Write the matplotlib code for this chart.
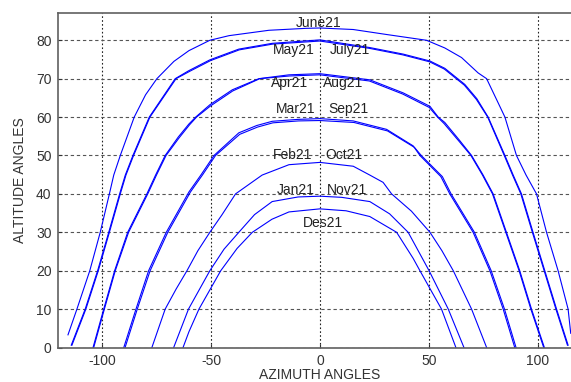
import matplotlib
matplotlib.use('Agg')
import matplotlib.pyplot as plt

plt.rcParams['font.family'] = ['Liberation Sans', 'DejaVu Sans']
plt.rcParams['axes.unicode_minus'] = False

# sun path readings: (azimuth, altitude)
june_az = [-115.6, -111.5, -105.6, -100.8, -96.6, -94.6, -91.6, -85.2, -80.0, -74.8, -67.0, -60.1, -50.5, -41.7, -23.4, -6.6, 0, 15.3, 30.6, 48.9, 57.3, 65.0, 72.6, 76.5, 81.8, 84.9, 90.2, 94.6, 99.4, 104.0, 109.3, 113.9, 115.1]
june_alt = [3.3, 10, 20, 30, 40, 44.9, 50, 60, 65.8, 70, 74.5, 77.3, 80, 81.2, 82.6, 83.1, 83.2, 82.8, 81.5, 80, 78.0, 75.5, 71.5, 70, 63.7, 60, 50, 44.9, 40, 30, 20, 10, 3.7]

may_az = [-114.1, -107.7, -102.0, -96.9, -91.9, -89.3, -85.8, -78.3, -66.4, -60.1, -50.5, -37.2, -21.9, 0, 22.9, 38.2, 50.5, 57.3, 66.5, 72.0, 77.2, 84.9, 88.7, 92.5, 97.8, 103.2, 108.6, 113.9]
may_alt = [0.6, 10, 20, 30, 40, 44.9, 50, 60, 70, 72.1, 74.9, 77.7, 79.2, 80.1, 78.1, 76.4, 74.6, 72.7, 68.5, 64.8, 60, 50, 44.9, 40, 30, 20, 10, 0.6]
july_az = [-113.8, -107.4, -101.7, -96.6, -91.6, -89.0, -85.5, -78.0, -66.0, -59.8, -50.2, -37.0, -21.7, 0, 22.7, 38.0, 50.3, 57.1, 66.3, 71.8, 77.0, 84.6, 88.4, 92.2, 97.5, 102.9, 108.3, 113.6]
july_alt = [0.6, 10, 20, 30, 40, 44.9, 50, 60, 70, 71.9, 74.7, 77.5, 79.0, 79.8, 77.9, 76.2, 74.4, 72.5, 68.3, 64.6, 60, 50, 44.9, 40, 30, 20, 10, 0.6]

apr_az = [-104.1, -99.2, -94.2, -88.2, -79.4, -75.4, -71.0, -65.0, -60.1, -57.0, -50.5, -40.2, -28.0, -14.2, 0, 22.9, 38.2, 50.5, 54.3, 57.3, 64.0, 69.6, 74.9, 79.5, 85.6, 91.7, 97.1, 103.0]
apr_alt = [0, 10, 20, 30, 40, 44.9, 50, 54.8, 58.2, 60, 63.2, 67.1, 70, 71.0, 71.3, 69.7, 66.3, 62.8, 60, 58.6, 54.0, 50, 44.9, 40, 30, 20, 10, 0]
aug_az = [-103.8, -98.9, -93.9, -87.8, -79.0, -75.0, -70.6, -64.6, -59.8, -56.6, -50.2, -40.0, -27.6, -14.0, 0, 22.7, 38.0, 50.2, 54.0, 57.0, 63.7, 69.3, 74.6, 79.2, 85.3, 91.4, 96.8, 102.7]
aug_alt = [0, 10, 20, 30, 40, 44.9, 50, 54.6, 58.0, 60, 62.9, 66.8, 70, 70.7, 71.0, 69.4, 66.0, 62.5, 60, 58.3, 53.8, 50, 44.9, 40, 30, 20, 10, 0]

mar_az = [-90.0, -84.4, -78.6, -70.5, -60.1, -54.5, -48.6, -37.2, -29.0, -21.9, -10.0, 0, 15.3, 30.6, 42.8, 45.9, 55.5, 59.6, 70.3, 78.0, 84.1, 89.4]
mar_alt = [0, 10, 20, 30, 40.5, 45, 50, 55.9, 57.8, 58.9, 59.4, 59.6, 59.0, 56.8, 52.5, 50, 44.5, 40, 30, 20, 10, 0]
sep_az = [-89.4, -83.8, -77.9, -69.8, -59.4, -53.8, -47.9, -36.8, -28.6, -21.6, -9.8, 0, 15.6, 31.0, 43.4, 46.5, 56.2, 60.2, 70.9, 78.6, 84.7, 90.0]
sep_alt = [0, 10, 20, 30, 40.5, 45, 50, 55.5, 57.4, 58.5, 59.0, 59.1, 58.6, 56.4, 52.1, 50, 44.5, 40, 30, 20, 10, 0]

feb_az = [-77.1, -71.0, -66.0, -61.0, -56.0, -50.5, -45.0, -38.7, -29.5, -26.5, -14.2, 0, 15.3, 22.9, 29.0, 32.9, 42.0, 50.5, 56.0, 61.2, 69.6, 76.5]
feb_alt = [0, 10, 15.2, 20, 25.2, 30, 34.5, 40, 43.7, 44.9, 47.6, 48.2, 47.2, 44.9, 43.0, 40, 35.5, 30, 25.2, 20, 10, 0]

jan_az = [-67.1, -60.3, -50.5, -44.0, -37.2, -30.0, -21.9, -10.0, 0, 10.0, 22.9, 32.0, 40.5, 50.1, 58.9, 66.1]
jan_alt = [0, 10, 20, 25.6, 30, 34.6, 38.0, 39.2, 39.4, 39.1, 38.0, 34.8, 30, 20, 10, 0]

dec_az = [-62.8, -60.1, -55.5, -45.5, -38.0, -31.0, -22.0, -14.2, 0, 12.0, 22.9, 35.2, 42.8, 45.9, 55.8, 62.4]
dec_alt = [0, 4.1, 10, 20, 25.8, 30, 33.4, 35.3, 36.1, 35.6, 34.1, 30, 23.2, 20, 10, 0]

curves = [(june_az, june_alt), (may_az, may_alt), (july_az, july_alt),
          (apr_az, apr_alt), (aug_az, aug_alt), (mar_az, mar_alt),
          (sep_az, sep_alt), (feb_az, feb_alt), (jan_az, jan_alt),
          (dec_az, dec_alt)]

# month labels: text, x, y, alignment
labels = [('June21', -0.5, 84.5, 'center'),
          ('May21', -2.3, 77.5, 'right'), ('July21', 4.6, 77.5, 'left'),
          ('Apr21', -5.5, 68.8, 'right'), ('Aug21', 1.4, 68.8, 'left'),
          ('Mar21', -2.3, 62.1, 'right'), ('Sep21', 3.7, 62.1, 'left'),
          ('Feb21', -3.7, 50.1, 'right'), ('Oct21', 2.3, 50.1, 'left'),
          ('Jan21', -2.3, 41.0, 'right'), ('Nov21', 3.2, 41.0, 'left'),
          ('Des21', 1.4, 32.5, 'center')]

fig = plt.figure(figsize=(5.71, 3.82), dpi=100)
ax = fig.add_axes([58.4/571, 1-347.5/382, 523/571, 334.5/382])

for az, alt in curves:
    ax.plot(az, alt, color='#0000ff', lw=0.8)

for txt, x, y, ha in labels:
    ax.text(x, y, txt, ha=ha, va='center', fontsize=10, color='#222222')

ax.set_xlim(-120, 120)
ax.set_ylim(0, 87.1)
ax.set_xticks([-100, -50, 0, 50, 100])
ax.set_yticks([0, 10, 20, 30, 40, 50, 60, 70, 80])
ax.xaxis.grid(True, color='#222222', linestyle=(0, (1.5, 2)), lw=0.8)
ax.yaxis.grid(True, color='#555555', linestyle=(0, (3, 2.5)), lw=0.8)
ax.tick_params(direction='in', length=3, labelsize=10, colors='#333333', pad=5)
for sp in ax.spines.values():
    sp.set_color('#606060')
    sp.set_linewidth(1.2)
ax.spines['right'].set_visible(False)

ax.set_xlabel('AZIMUTH ANGLES', fontsize=10, color='#333333', labelpad=0)
ax.set_ylabel('ALTITUDE ANGLES', fontsize=10, color='#333333', labelpad=6)

fig.savefig('out.png', dpi=100)
